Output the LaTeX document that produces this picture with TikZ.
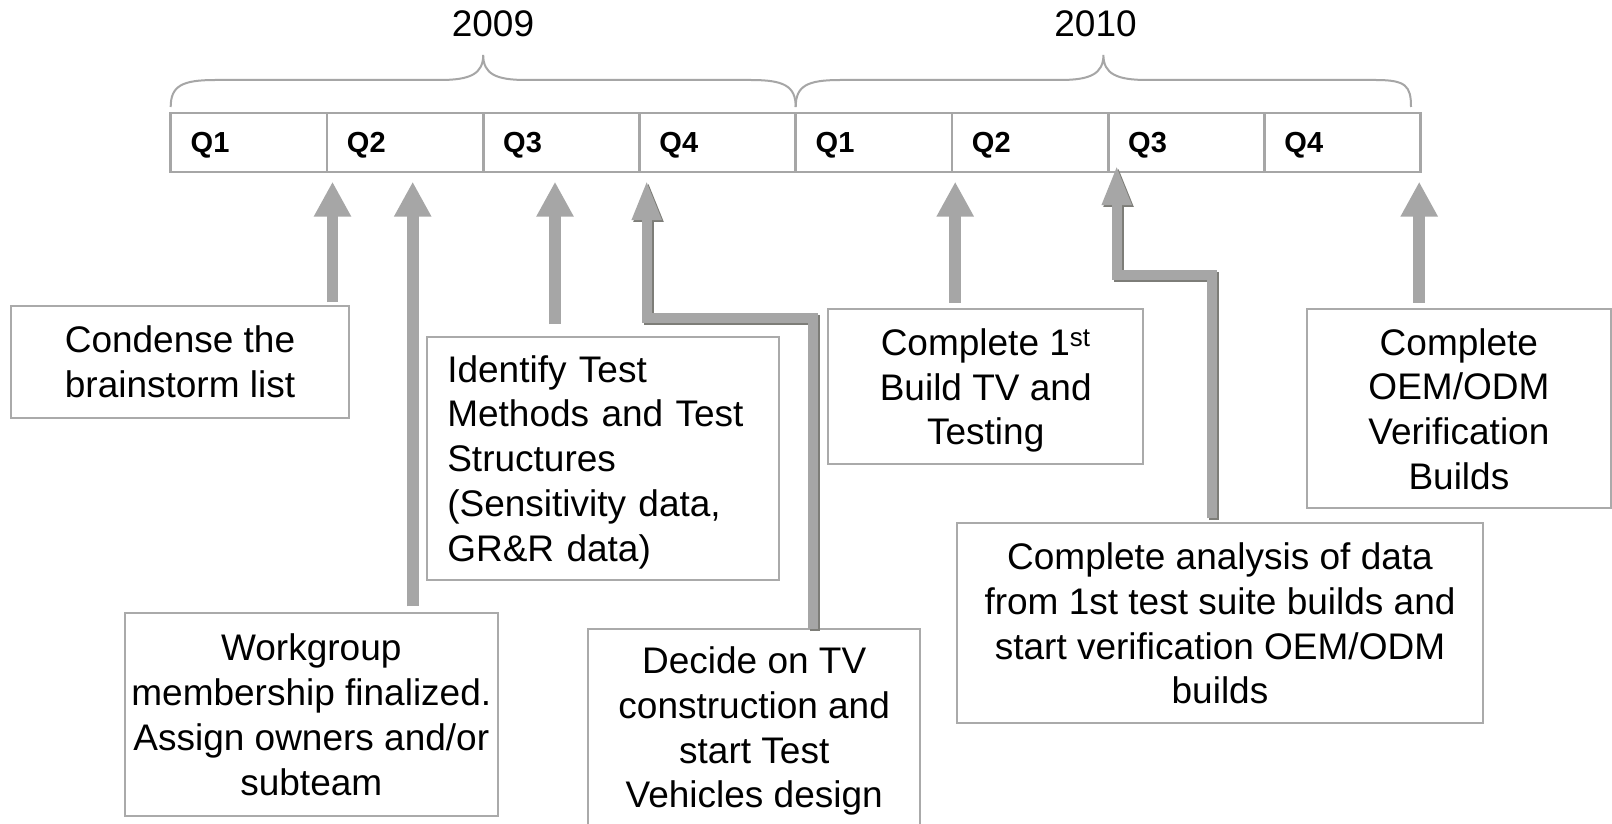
\documentclass[tikz,border=0pt]{standalone}
\usepackage{fontspec}
\setmainfont{Liberation Sans}
\usetikzlibrary{arrows.meta,calc}
\definecolor{lg}{RGB}{166,166,166}
\definecolor{dg}{RGB}{125,125,120}
\definecolor{bx}{RGB}{170,170,170}
\begin{document}
\begin{tikzpicture}[x=1pt,y=-1pt,
  every node/.style={font=\fontsize{37}{44.8}\selectfont, inner sep=0pt, outer sep=0pt},
  box/.style={draw=bx, line width=2pt, align=center, text depth=0pt},
  cell/.style={draw=lg, line width=2.7pt, minimum width=156.25pt, minimum height=59pt,
    anchor=north west, text width=116.25pt, inner xsep=20pt, align=left, text depth=0pt,
    font=\fontsize{29}{34}\selectfont\bfseries},
  arr/.style={draw=lg, line width=11.7pt, -{Triangle[width=35pt,length=35pt]}},
  elb/.style={line width=10pt, line join=miter, -{Triangle[width=27pt,length=40pt]}},
  bracestyle/.style={draw=lg, line width=2pt}
]
\useasboundingbox (0,0) rectangle (1612,824);
\fill[white] (0,0) rectangle (1612,824);

% years
\node (y1) at (493,23.4) {2009};
\node (y2) at (1095.5,23.4) {2010};

% braces
\draw[bracestyle] (170.7,107) .. controls (170.7,86) and (182,80) .. (215,80) -- (440,80)
  .. controls (470,80) and (483.2,74) .. (483.2,55)
  .. controls (483.2,74) and (496,80) .. (526,80) -- (751,80)
  .. controls (784,80) and (795.7,86) .. (795.7,107);
\draw[bracestyle] (795.7,107) .. controls (795.7,86) and (807,80) .. (840,80) -- (1060,80)
  .. controls (1090,80) and (1103.4,74) .. (1103.4,55)
  .. controls (1103.4,74) and (1117,80) .. (1147,80) -- (1376,80)
  .. controls (1406,80) and (1411,86) .. (1411,107);

% quarter cells
\node[cell] (q0) at (170.7,113) {Q1};
\node[cell] (q1) at (326.95,113) {Q2};
\node[cell] (q2) at (483.2,113) {Q3};
\node[cell] (q3) at (639.45,113) {Q4};
\node[cell] (q4) at (795.7,113) {Q1};
\node[cell] (q5) at (951.95,113) {Q2};
\node[cell] (q6) at (1108.2,113) {Q3};
\node[cell] (q7) at (1264.45,113) {Q4};

% boxes
\node[box, minimum width=338pt, minimum height=111.5pt] (b1) at (180,361.75) {Condense the\\brainstorm list};
\node[box, minimum width=372.6pt, minimum height=203pt] (b2) at (311.3,714.5) {Workgroup\\membership finalized.\\Assign owners and/or\\subteam};
\node[box, anchor=north west, minimum height=243.3pt, text width=311.4pt, inner xsep=20.6pt, align=left, text depth=179.2pt] (b3) at (426.7,336.7) {Identify Test\\Methods and Test\\Structures\\(Sensitivity data,\\GR\&R data)};
\node[box, minimum width=331.7pt, minimum height=195.7pt] (b4) at (754.2,727.2) {Decide on TV\\construction and\\start Test\\Vehicles design};
\node[box, minimum width=315.3pt, minimum height=154.7pt] (b5) at (985.7,386.7) {Complete 1\textsuperscript{st}\\Build TV and\\Testing};
\node[box, minimum width=526.7pt, minimum height=200pt] (b6) at (1220,623.3) {Complete analysis of data\\from 1st test suite builds and\\start verification OEM/ODM\\builds};
\node[box, minimum width=304.3pt, minimum height=199pt] (b7) at (1458.9,408.8) {Complete\\OEM/ODM\\Verification\\Builds};

% arrow tips and bends
\coordinate (t1) at (332.5,181.7);
\coordinate (t2) at (412.7,181.7);
\coordinate (t3) at (555,181.7);
\coordinate (t4) at (646.7,180);
\coordinate (k4) at (812.8,318);
\coordinate (t5) at (955.2,181.7);
\coordinate (t6) at (1116.7,165);
\coordinate (k6) at (1211.7,275);
\coordinate (t7) at (1419.2,181.7);

% straight arrows
\draw[arr, shorten <=4pt] (t1 |- b1.north) -- (t1);
\draw[arr, shorten <=6.6pt] (t2 |- b2.north) -- (t2);
\draw[arr, shorten <=12.7pt] (t3 |- b3.north) -- (t3);
\draw[arr, shorten <=6.6pt] (t5 |- b5.north) -- (t5);
\draw[arr, shorten <=6.6pt] (t7 |- b7.north) -- (t7);

% elbow arrows with shadow
\draw[elb, draw=dg, transform canvas={xshift=1.8pt,yshift=-1.8pt}] (k4 |- b4.north) -- (k4) -| (t4);
\draw[elb, draw=lg] (k4 |- b4.north) -- (k4) -| (t4);
\draw[elb, draw=dg, transform canvas={xshift=1.8pt,yshift=-1.8pt}] ($(k6 |- b6.north)+(0,-5)$) -- (k6) -| (t6);
\draw[elb, draw=lg] ($(k6 |- b6.north)+(0,-5)$) -- (k6) -| (t6);
\end{tikzpicture}
\end{document}
